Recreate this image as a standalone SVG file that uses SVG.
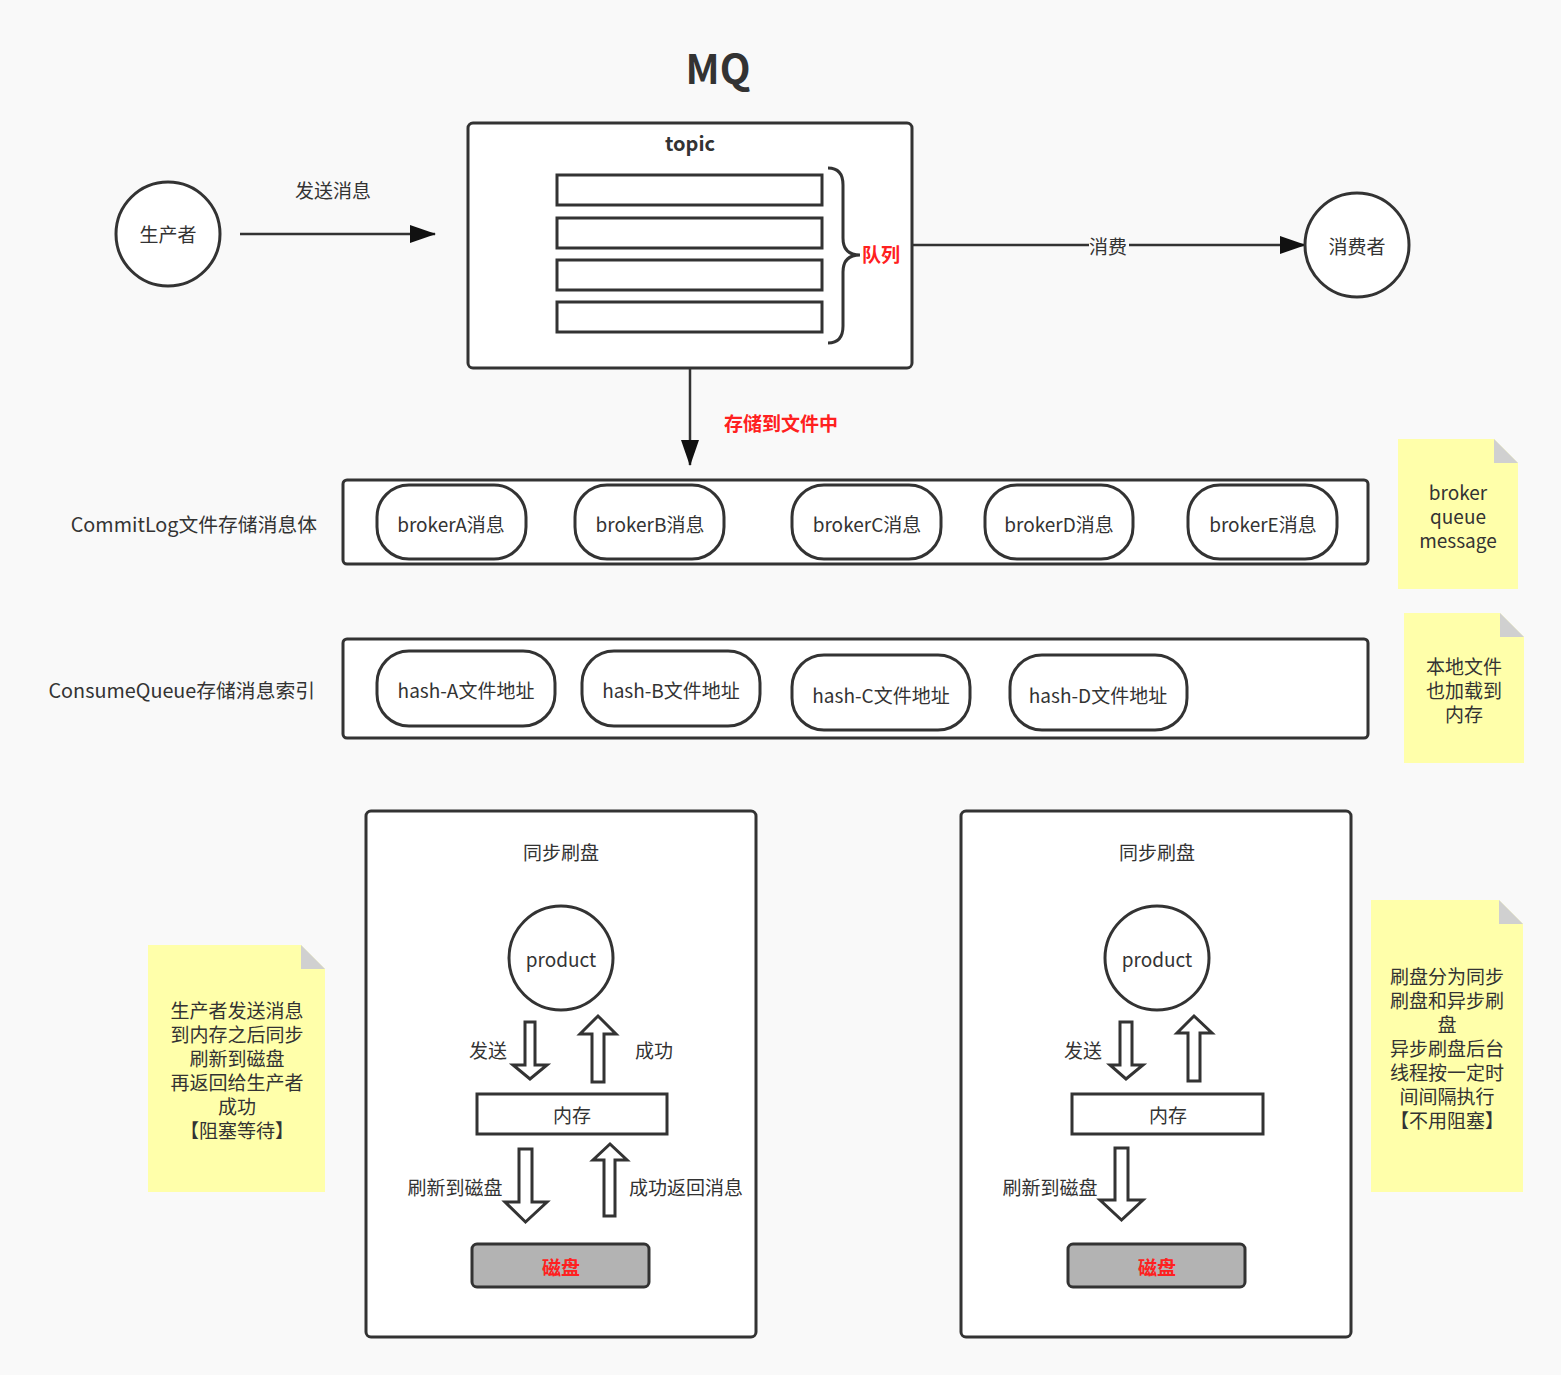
<svg xmlns="http://www.w3.org/2000/svg" width="1561" height="1375" viewBox="0 0 1561 1375">
<style>
text{font-family:"Noto Sans CJK SC","Noto Sans",sans-serif;fill:#333;font-size:19px;dominant-baseline:central;text-anchor:middle}
.s{stroke:#333;stroke-width:3;fill:#fff}
.ln{stroke:#333;stroke-width:2.5;fill:none}
.note{fill:#ffffaa}
.fold{fill:#d0d0d0}
.red{fill:#ff2020;font-weight:bold}
.b{font-weight:bold}
.disk{fill:#b3b3b3;stroke:#333;stroke-width:3}
.lbl{font-size:19.8px;text-anchor:end}
</style>
<defs>
<marker id="ah" markerUnits="userSpaceOnUse" markerWidth="26" markerHeight="18" refX="25" refY="9" orient="auto">
<path d="M0,0 L26,9 L0,18 Z" fill="#111"/>
</marker>
</defs>
<rect width="1561" height="1375" fill="#f9f9f9"/>
<text x="718" y="67" class="b" style="font-size:40px">MQ</text>

<g id="connectors">
<line class="ln" x1="240" y1="234" x2="435" y2="234" marker-end="url(#ah)"/>
<text x="333" y="189">发送消息</text>
<line class="ln" x1="913" y1="245" x2="1305" y2="245" marker-end="url(#ah)"/>
<rect x="1089" y="235" width="40" height="22" fill="#f9f9f9"/>
<text x="1108" y="245">消费</text>
<line class="ln" x1="690" y1="368" x2="690" y2="465" marker-end="url(#ah)"/>
<text x="781" y="422" class="red">存储到文件中</text>
</g>

<g id="producer">
<circle class="s" cx="168" cy="234" r="52"/>
<text x="168" y="233">生产者</text>
</g>

<g id="consumer">
<circle class="s" cx="1357" cy="245" r="52"/>
<text x="1357" y="245">消费者</text>
</g>

<g id="topic">
<rect class="s" x="468" y="123" width="444" height="245" rx="5"/>
<text x="690" y="142" class="b" style="font-size:20px">topic</text>
<rect class="s" x="557" y="175" width="265" height="30"/>
<rect class="s" x="557" y="218" width="265" height="30"/>
<rect class="s" x="557" y="260" width="265" height="30"/>
<rect class="s" x="557" y="302" width="265" height="30"/>
<path d="M828,168 Q843,168 843,185 V238 Q843,255 860,255 Q843,255 843,272 V326 Q843,343 828,343" stroke="#333" stroke-width="3" fill="none"/>
<text x="881" y="253" class="red">队列</text>
</g>

<g id="commitlog">
<text x="317" y="523" class="lbl">CommitLog文件存储消息体</text>
<rect class="s" x="343" y="480" width="1025" height="84" rx="4"/>
<rect class="s" x="377" y="485" width="149" height="74" rx="32"/>
<text x="451" y="523">brokerA消息</text>
<rect class="s" x="575" y="485" width="149" height="74" rx="32"/>
<text x="650" y="523">brokerB消息</text>
<rect class="s" x="792" y="485" width="149" height="74" rx="32"/>
<text x="867" y="523">brokerC消息</text>
<rect class="s" x="985" y="485" width="148" height="74" rx="32"/>
<text x="1059" y="523">brokerD消息</text>
<rect class="s" x="1188" y="485" width="149" height="74" rx="32"/>
<text x="1263" y="523">brokerE消息</text>
</g>

<g id="consumequeue">
<text x="315" y="689" class="lbl">ConsumeQueue存储消息索引</text>
<rect class="s" x="343" y="639" width="1025" height="99" rx="4"/>
<rect class="s" x="377" y="651" width="178" height="75" rx="32"/>
<text x="466" y="689">hash-A文件地址</text>
<rect class="s" x="582" y="651" width="178" height="75" rx="32"/>
<text x="671" y="689">hash-B文件地址</text>
<rect class="s" x="792" y="655" width="178" height="75" rx="32"/>
<text x="881" y="694">hash-C文件地址</text>
<rect class="s" x="1010" y="655" width="177" height="75" rx="32"/>
<text x="1098" y="694">hash-D文件地址</text>
</g>

<g id="note-broker">
<path class="note" d="M1398,439 H1494 L1518,463 V589 H1398 Z"/>
<path class="fold" d="M1494,439 L1518,463 H1494 Z"/>
<text x="1458" y="491">broker</text>
<text x="1458" y="515">queue</text>
<text x="1458" y="539">message</text>
</g>

<g id="note-local">
<path class="note" d="M1404,613 H1500 L1524,637 V763 H1404 Z"/>
<path class="fold" d="M1500,613 L1524,637 H1500 Z"/>
<text x="1464" y="665">本地文件</text>
<text x="1464" y="689">也加载到</text>
<text x="1464" y="713">内存</text>
</g>

<g id="sync-flush">
<rect class="s" x="366" y="811" width="390" height="526" rx="5"/>
<text x="561" y="851">同步刷盘</text>
<circle class="s" cx="561" cy="958" r="52"/>
<text x="561" y="958">product</text>
<path class="s" d="M525,1022 H535 V1065 H547 L530,1079 L513,1065 H525 Z"/>
<path class="s" d="M592,1082 V1034 H580 L598,1016 L616,1034 H604 V1082 Z"/>
<text x="488" y="1049">发送</text>
<text x="654" y="1049">成功</text>
<rect class="s" x="477" y="1094" width="190" height="40"/>
<text x="572" y="1114">内存</text>
<path class="s" d="M519,1149 H532 V1202 H547 L525.5,1222 L505,1202 H519 Z"/>
<path class="s" d="M604,1216 V1160 H593 L610,1144 L627,1160 H615 V1216 Z"/>
<text x="455" y="1186">刷新到磁盘</text>
<text x="686" y="1186">成功返回消息</text>
<rect class="disk" x="472" y="1244" width="177" height="43" rx="5"/>
<text x="561" y="1266" class="red">磁盘</text>
</g>

<g id="async-flush">
<rect class="s" x="961" y="811" width="390" height="526" rx="5"/>
<text x="1157" y="851">同步刷盘</text>
<circle class="s" cx="1157" cy="958" r="52"/>
<text x="1157" y="958">product</text>
<path class="s" d="M1120,1022 H1132 V1065 H1143 L1126,1079 L1110,1065 H1120 Z"/>
<path class="s" d="M1188,1081 V1033 H1177 L1194,1016 L1212,1033 H1200 V1081 Z"/>
<text x="1083" y="1049">发送</text>
<rect class="s" x="1072" y="1094" width="191" height="40"/>
<text x="1168" y="1114">内存</text>
<path class="s" d="M1115,1148 H1128 V1200 H1143 L1121.5,1220 L1100,1200 H1115 Z"/>
<text x="1050" y="1186">刷新到磁盘</text>
<rect class="disk" x="1068" y="1244" width="177" height="43" rx="5"/>
<text x="1157" y="1266" class="red">磁盘</text>
</g>

<g id="note-sync">
<path class="note" d="M148,945 H301 L325,969 V1192 H148 Z"/>
<path class="fold" d="M301,945 L325,969 H301 Z"/>
<text x="237" y="1009">生产者发送消息</text>
<text x="237" y="1033">到内存之后同步</text>
<text x="237" y="1057">刷新到磁盘</text>
<text x="237" y="1081">再返回给生产者</text>
<text x="237" y="1105">成功</text>
<text x="237" y="1129">【阻塞等待】</text>
</g>

<g id="note-async">
<path class="note" d="M1371,900 H1499 L1523,924 V1192 H1371 Z"/>
<path class="fold" d="M1499,900 L1523,924 H1499 Z"/>
<text x="1447" y="975">刷盘分为同步</text>
<text x="1447" y="999">刷盘和异步刷</text>
<text x="1447" y="1023">盘</text>
<text x="1447" y="1047">异步刷盘后台</text>
<text x="1447" y="1071">线程按一定时</text>
<text x="1447" y="1095">间间隔执行</text>
<text x="1447" y="1119">【不用阻塞】</text>
</g>
</svg>
